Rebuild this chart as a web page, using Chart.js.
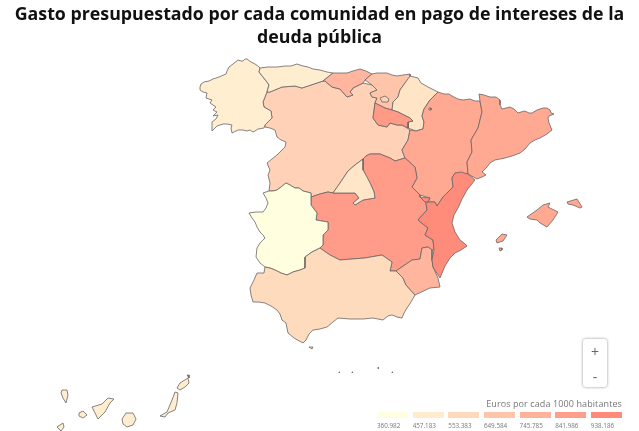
<!DOCTYPE html>
<html lang="es">
<head>
<meta charset="utf-8">
<title>Gasto en intereses de la deuda</title>
<script src="https://cdn.jsdelivr.net/npm/chart.js@4/dist/chart.umd.min.js"></script>
<style>
  html, body { margin: 0; background: #fff; overflow: hidden; }
  body { width: 639px; height: 431px; position: relative; font-family: "Open Sans", sans-serif; }
  canvas { position: absolute; left: 0; top: 0; }
  h1 { position: absolute; left: 0; top: 2px; width: 639px; margin: 0; text-align: center;
       font-size: 17.8px; line-height: 23px; font-weight: 700; color: #111; }
  .zoom { position: absolute; left: 583px; top: 339px; width: 24px; height: 48px; background: #fff;
          border-radius: 3px; box-shadow: 0 0 3px rgba(0,0,0,.45); color: #666; text-align: center;
          font-size: 14px; line-height: 25px; }
  .legend { position: absolute; left: 377px; top: 397px; width: 245px; color: #777; }
  .legend .name { text-align: right; font-size: 9px; line-height: 14px; letter-spacing: .1px; }
  .legend .bins { display: flex; gap: 4.5px; margin-top: 1px; }
  .legend .bin { width: 31.5px; font-size: 6.3px; line-height: 9px; }
  .legend .bin i { display: block; height: 6px; margin-bottom: 3px; }
</style>
</head>
<body>
<canvas id="map" width="639" height="431"></canvas>
<h1 id="title"></h1>
<div class="zoom"><div>+</div><div>-</div></div>
<div class="legend"><div class="name" id="legendName"></div><div class="bins" id="bins"></div></div>
<script>
const titleText = "Gasto presupuestado por cada comunidad en pago de intereses de la deuda pública";
const legendName = "Euros por cada 1000 habitantes";
const legendTicks = [360.982, 457.183, 553.383, 649.584, 745.785, 841.986, 938.186];
const legendColors = ["#ffffe0", "#ffecce", "#ffd9bc", "#ffc5ab", "#ffb29b", "#ff9e8a", "#ff8a7a"];

// region values, estimated from the fill colours
const regionNames = ["Castilla y León", "Galicia", "Asturias", "Cantabria", "País Vasco", "Navarra", "La Rioja",
  "Aragón", "Cataluña", "Castilla-La Mancha", "Madrid", "Extremadura", "Andalucía", "Murcia",
  "C. Valenciana", "Baleares", "Canarias", "Ceuta y Melilla"];
const regionValues = [590, 445, 450, 730, 650, 500, 860, 790, 790, 850, 490, 361, 545, 730, 930, 790, 450, 450];

// outlines, in the map plane of the axes below (x right, y down)
const castillaLeon = [[[267,92],[270,92],[282,87],[295,86],[302,88],[317,83],[323,81],[325,81],[332,87],[340,89],[347,97],[353,95],[350,92],[353,88],[363,83],[372,85],[377,90],[370,93],[372,97],[377,98],[375,103],[373,118],[378,125],[387,127],[390,123],[397,125],[402,125],[407,128],[410,130],[408,140],[402,150],[405,158],[395,161],[390,158],[380,154],[370,154],[366,156],[363,159],[355,165],[348,171],[340,183],[333,193],[328,192],[320,194],[311,197],[311,193],[307,192],[303,191],[299,188],[295,188],[290,185],[286,183],[281,187],[277,190],[273,191],[269,191],[270,183],[268,175],[270,170],[267,163],[272,159],[277,155],[281,151],[285,147],[286,142],[281,140],[277,137],[275,130],[270,128],[265,127],[265,125],[272,118],[271,111],[264,107],[263,102]]];
const galicia = [[[200,87],[201,84],[204,82],[209,81],[213,79],[219,77],[226,74],[227,71],[229,67],[233,64],[238,60],[241,61],[243,61],[245,59],[247,59],[251,62],[255,64],[258,66],[260,68],[259,72],[267,82],[269,85],[267,92],[263,102],[264,107],[271,111],[272,118],[265,125],[264,128],[258,129],[255,131],[253,132],[250,130],[247,131],[243,130],[238,130],[232,133],[231,128],[232,125],[227,124],[223,124],[220,125],[217,126],[212,131],[212,122],[216,119],[218,115],[213,116],[217,112],[213,110],[216,107],[210,103],[212,100],[206,98],[207,93],[203,92],[200,90]]];
const asturias = [[[260,68],[268,67],[277,67],[285,66],[291,66],[297,64],[303,66],[308,67],[313,69],[320,70],[327,72],[333,73],[323,81],[317,83],[302,88],[295,86],[282,87],[270,92],[267,92],[269,85],[267,82],[259,72]]];
const cantabria = [[[333,73],[340,73],[347,73],[353,71],[360,69],[366,71],[372,74],[365,80],[363,83],[353,88],[350,92],[353,95],[347,97],[340,89],[332,87],[325,81],[323,81]]];
const paisVasco = [[[365,80],[372,74],[377,73],[382,73],[387,73],[392,75],[397,76],[403,75],[410,74],[410,77],[405,83],[400,90],[398,97],[393,102],[392,110],[385,108],[375,103],[377,98],[372,97],[370,93],[377,90],[372,85]]];
const navarra = [[[410,76],[405,83],[400,90],[398,97],[393,102],[392,110],[398,112],[410,118],[413,121],[408,122],[408,128],[416,131],[423,129],[424,122],[422,116],[424,109],[430,100],[438,92],[428,87],[421,83],[418,78]]];
const laRioja = [[[375,103],[385,108],[392,110],[398,112],[410,118],[413,121],[408,122],[408,128],[402,125],[397,125],[390,123],[387,127],[378,125],[373,118]]];
const aragon = [[[438,92],[444,94],[449,94],[452,96],[458,99],[463,100],[470,99],[475,101],[480,101],[482,112],[478,128],[471,140],[472,152],[467,162],[468,174],[455,173],[452,178],[453,187],[443,197],[437,206],[435,202],[428,202],[430,198],[420,195],[412,187],[417,178],[415,167],[405,158],[402,150],[408,140],[410,130],[416,131],[423,129],[424,122],[422,116],[424,109],[430,100]]];
const cataluna = [[[479,94],[484,95],[490,97],[496,97],[500,100],[500,105],[502,109],[506,108],[510,107],[514,109],[518,113],[521,112],[525,111],[529,113],[532,113],[537,110],[543,108],[547,108],[550,110],[551,113],[554,114],[549,116],[548,118],[549,123],[552,130],[547,134],[540,138],[535,140],[530,143],[525,149],[520,153],[512,156],[505,158],[495,160],[490,163],[487,167],[482,172],[486,175],[482,177],[477,179],[468,174],[467,162],[472,152],[471,140],[478,128],[482,112],[480,101]]];
const castillaMancha = [[[311,197],[320,194],[328,192],[333,193],[347,193],[355,193],[359,198],[353,203],[355,205],[363,200],[375,198],[374,192],[371,185],[363,170],[363,159],[366,156],[370,154],[380,154],[390,158],[395,161],[405,158],[415,167],[417,178],[412,187],[420,195],[420,197],[425,202],[426,203],[427,210],[418,220],[428,228],[425,235],[433,240],[434,250],[432,250],[428,247],[422,248],[420,259],[412,260],[396,271],[390,271],[392,262],[382,255],[365,258],[352,259],[340,260],[330,255],[320,248],[323,245],[323,235],[328,230],[328,222],[316,220],[317,213],[311,205]]];
const madrid = [[[363,159],[363,170],[367,177],[371,185],[374,192],[375,198],[363,200],[355,205],[353,203],[359,198],[355,193],[347,193],[333,193],[340,183],[348,171],[355,165]]];
const extremadura = [[[311,193],[307,192],[303,191],[299,188],[295,188],[290,185],[286,183],[281,187],[277,190],[273,191],[269,191],[263,193],[266,198],[268,203],[266,208],[263,212],[256,212],[249,213],[252,218],[255,222],[257,227],[260,232],[263,235],[265,238],[260,243],[257,248],[256,257],[260,263],[265,267],[270,268],[275,270],[281,273],[287,275],[293,272],[300,270],[305,268],[305,262],[305,257],[312,252],[320,248],[323,245],[323,235],[328,230],[328,222],[316,220],[317,213],[311,205]]];
const andalucia = [[[320,248],[312,252],[305,257],[305,262],[305,268],[300,270],[293,272],[287,275],[281,273],[275,270],[270,268],[265,267],[264,273],[257,273],[254,280],[250,288],[251,295],[253,302],[259,302],[265,303],[271,306],[277,310],[280,314],[282,320],[286,323],[288,333],[294,338],[303,343],[306,340],[309,334],[313,330],[320,329],[327,327],[333,322],[338,318],[350,319],[363,319],[373,318],[383,320],[388,316],[392,315],[397,317],[402,318],[404,313],[407,308],[411,302],[415,295],[406,285],[403,278],[396,271],[390,271],[392,262],[382,255],[365,258],[352,259],[340,260],[330,255]]];
const murcia = [[[396,271],[412,260],[420,259],[422,248],[428,247],[432,250],[432,260],[433,267],[438,278],[440,287],[430,288],[415,295],[406,285],[403,278]]];
const valencia = [
  [[426,203],[428,202],[435,202],[437,206],[443,197],[453,187],[452,178],[455,173],[461,172],[468,174],[475,180],[471,185],[467,190],[462,199],[458,208],[454,215],[452,223],[455,232],[460,240],[464,243],[467,246],[461,250],[455,253],[450,258],[445,266],[440,278],[433,267],[432,260],[434,250],[433,240],[425,235],[428,228],[418,220],[427,210]],
  [[420,197],[430,198],[428,202],[425,202]]
];
const baleares = [
  [[527,217],[537,210],[543,205],[550,203],[548,207],[558,212],[553,220],[547,227],[540,223],[537,220],[530,219]],
  [[567,202],[577,199],[582,207],[580,208],[573,205],[568,204]],
  [[496,240],[502,234],[507,235],[503,241],[497,243]],
  [[499,248],[502,248],[502,250],[500,251]]
];
const canarias = [
  [[62,390],[67,390],[68,395],[66,403],[63,398],[61,393]],
  [[79,413],[83,411],[87,415],[83,418],[79,416]],
  [[57,427],[63,423],[64,427],[61,431],[58,428]],
  [[92,407],[102,404],[108,398],[114,399],[110,403],[105,412],[98,419],[95,413]],
  [[122,419],[126,413],[133,413],[136,419],[133,425],[127,427],[123,424]],
  [[160,416],[167,412],[172,400],[175,392],[178,393],[177,403],[175,410],[168,413],[165,417]],
  [[177,388],[180,383],[188,378],[189,383],[185,387],[180,390]],
  [[187,375],[189,375],[189,378]]
];
const ceutaMelilla = [
  [[309,347],[313,347],[312,349]],
  [[378,367],[379,368],[378,369]],
  [[392,372],[393,372],[392,373]],
  [[339,372],[340,372],[339,373]],
  [[352,372],[353,372],[352,373]]
];
const regionShapes = [castillaLeon, galicia, asturias, cantabria, paisVasco, navarra, laRioja, aragon, cataluna,
  castillaMancha, madrid, extremadura, andalucia, murcia, valencia, baleares, canarias, ceutaMelilla];
// small enclaves: Treviño inside the Basque Country, Petilla inside Aragón
const trevino = [[380,98],[385,96],[389,99],[388,102],[382,102]];
const petilla = [[429,108],[431,108],[431,110],[429,110]];

function hexToRgb(hex) {
  return [1, 3, 5].map(function (i) { return parseInt(hex.slice(i, i + 2), 16); });
}

// colour for a value, running along the legend stops
function colorFor(value) {
  let i = 0;
  while (i < legendTicks.length - 2 && value > legendTicks[i + 1]) i++;
  const t = Math.min(1, Math.max(0, (value - legendTicks[i]) / (legendTicks[i + 1] - legendTicks[i])));
  const a = hexToRgb(legendColors[i]);
  const b = hexToRgb(legendColors[i + 1]);
  return "rgb(" + a.map(function (v, k) { return Math.round(v + (b[k] - v) * t); }).join(",") + ")";
}

function polygonDataset(label, pts, color) {
  return {
    label: label,
    data: pts.concat([pts[0]]).map(function (p) { return { x: p[0], y: p[1] }; }),
    showLine: true,
    borderColor: "#6a6464",
    borderWidth: 0.8,
    pointRadius: 0,
    tension: 0,
    fillColor: color,
  };
}

const datasets = [];
regionShapes.forEach(function (polys, r) {
  polys.forEach(function (pts) {
    datasets.push(polygonDataset(regionNames[r], pts, colorFor(regionValues[r])));
  });
});
datasets.push(polygonDataset(regionNames[0], trevino, colorFor(regionValues[0])));
datasets.push(polygonDataset(regionNames[5], petilla, colorFor(regionValues[5])));
// Chart.js paints the first dataset last, so lower index = on top; keep list order as paint order
datasets.forEach(function (d, i) { d.order = datasets.length - i; });

// closes each outline and fills it just before the library strokes the line
const polygonFill = {
  id: "polygonFill",
  beforeDatasetDraw: function (chart, args) {
    const pts = args.meta.data;
    const ctx = chart.ctx;
    ctx.save();
    ctx.beginPath();
    pts.forEach(function (p, i) {
      if (i === 0) ctx.moveTo(p.x, p.y);
      else ctx.lineTo(p.x, p.y);
    });
    ctx.closePath();
    ctx.fillStyle = chart.data.datasets[args.index].fillColor;
    ctx.fill();
    ctx.restore();
  },
};

document.getElementById("title").textContent = titleText;
document.getElementById("legendName").textContent = legendName;
document.getElementById("bins").innerHTML = legendTicks.map(function (t, i) {
  return '<div class="bin"><i style="background:' + legendColors[i] + '"></i>' + t.toFixed(3) + "</div>";
}).join("");

new Chart(document.getElementById("map").getContext("2d"), {
  type: "scatter",
  data: { datasets: datasets },
  options: {
    responsive: false,
    animation: false,
    events: [],
    layout: { padding: 0 },
    plugins: { legend: { display: false }, tooltip: { enabled: false } },
    scales: {
      x: { type: "linear", display: false, min: 0, max: 639 },
      y: { type: "linear", display: false, min: 0, max: 431, reverse: true },
    },
  },
  plugins: [polygonFill],
});
</script>
</body>
</html>
